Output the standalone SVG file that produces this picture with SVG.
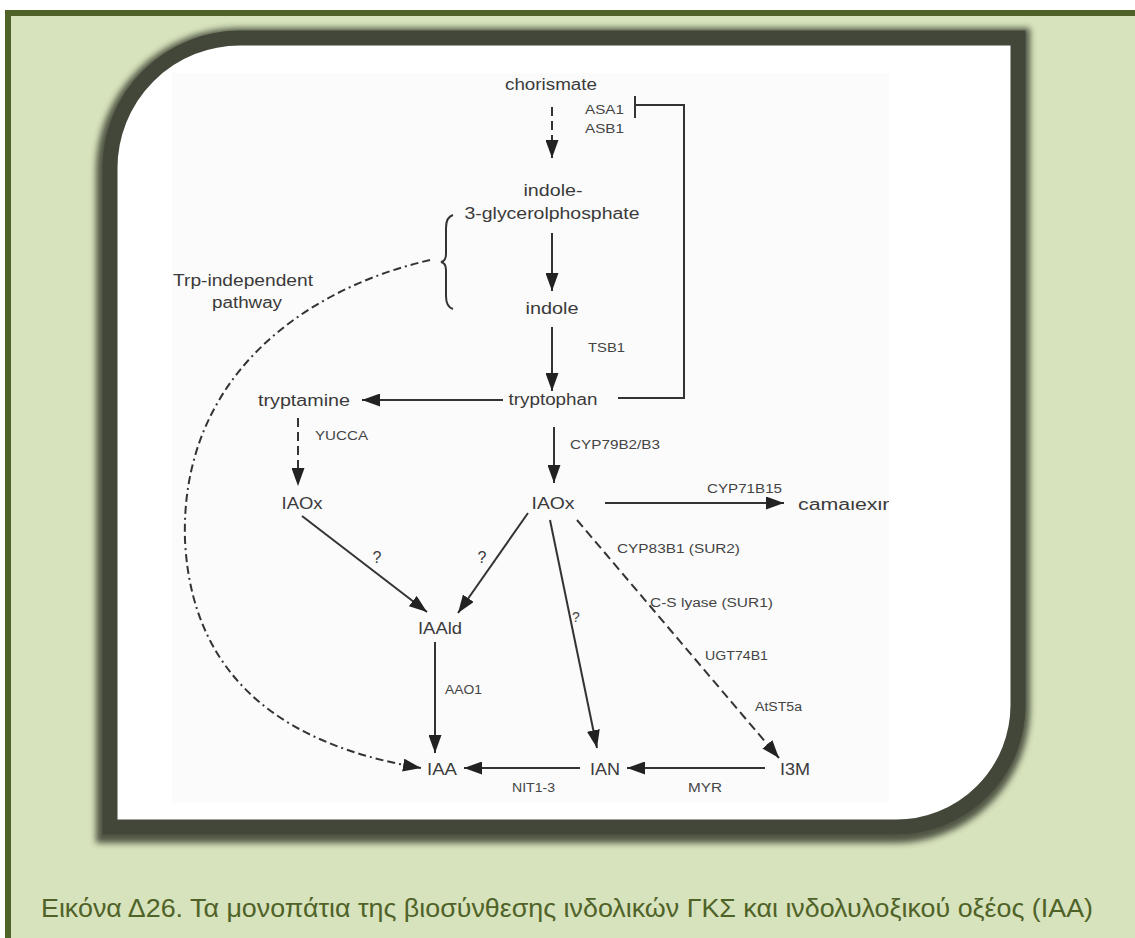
<svg xmlns="http://www.w3.org/2000/svg" width="1135" height="938" viewBox="0 0 1135 938">
<defs>
<style>
.lbl{font-family:"Liberation Sans",Arial,sans-serif;font-size:16px;fill:#3a3a3a;}
.enz{font-family:"Liberation Sans",Arial,sans-serif;font-size:12.5px;fill:#444;}
.ln{stroke:#333;stroke-width:2;fill:none;}
.arr{marker-end:url(#ah);}
.dash{stroke-dasharray:9,5;}
.cap{font-family:"Liberation Sans",Arial,sans-serif;font-size:26px;fill:#4f6228;}
</style>
<marker id="ah" markerUnits="userSpaceOnUse" markerWidth="19" markerHeight="13" refX="18" refY="6.5" orient="auto">
<path d="M0,0 L18,6.5 L0,13 z" fill="#222"/>
</marker>
<filter id="blur" x="-10%" y="-10%" width="120%" height="120%"><feGaussianBlur stdDeviation="3"/></filter>
<clipPath id="camclip"><rect x="790" y="501" width="99" height="16"/></clipPath>
</defs>

<!-- background -->
<rect x="0" y="0" width="1135" height="938" fill="#ffffff"/>
<rect x="5" y="10" width="1130" height="928" fill="#d7e3bc"/>
<rect x="5" y="10" width="1130" height="6" fill="#4f6228"/>
<rect x="5" y="10" width="6" height="928" fill="#4f6228"/>

<!-- framed panel -->
<g id="panel">
<path d="M108,168 A132,132 0 0 1 240,36 H1020 V705 A124,124 0 0 1 896,829 H108 Z" fill="none" stroke="#434739" stroke-width="22" filter="url(#blur)" opacity="0.9" transform="translate(-1,3)"/>
<path d="M110,168 A130,130 0 0 1 240,38 H1018 V705 A122,122 0 0 1 896,827 H110 Z" fill="#ffffff" stroke="#434739" stroke-width="15"/>
<rect x="172" y="73" width="717" height="730" fill="#fbfbfb"/>
</g>

<!-- connectors -->
<g id="connectors">
<line class="ln dash arr" x1="552" y1="107" x2="552" y2="158"/>
<line class="ln arr" x1="552" y1="233" x2="552" y2="291"/>
<line class="ln arr" x1="552" y1="327" x2="552" y2="391"/>
<line class="ln arr" x1="503" y1="400" x2="362" y2="400"/>
<line class="ln arr" x1="554" y1="427" x2="554" y2="483"/>
<path class="ln" d="M618,398 H684 V105 H635"/>
<line class="ln" x1="635" y1="96" x2="635" y2="118"/>
<line class="ln dash arr" x1="298" y1="418" x2="298" y2="486"/>
<line class="ln arr" x1="302" y1="516" x2="427" y2="612"/>
<line class="ln arr" x1="528" y1="513" x2="458" y2="613"/>
<line class="ln arr" x1="550" y1="520" x2="597" y2="748"/>
<line class="ln dash arr" x1="577" y1="520" x2="779" y2="758"/>
<line class="ln arr" x1="605" y1="503" x2="784" y2="503"/>
<line class="ln arr" x1="435" y1="642" x2="435" y2="753"/>
<line class="ln arr" x1="580" y1="768" x2="464" y2="768"/>
<line class="ln arr" x1="765" y1="768" x2="627" y2="768"/>
<path class="ln arr" d="M430,260 C300,290 180,380 185,540 C192,690 300,748 421,768" stroke-width="1.8" stroke-dasharray="8,4,8,4,2,4"/>
<path class="ln" d="M453,215 Q446,217 446,228 V254 Q446,261 441,262 Q446,263 446,270 V296 Q446,307 453,309" stroke-width="1.6"/>
</g>

<!-- nodes -->
<g id="n-chorismate"><text class="lbl" x="551" y="90" text-anchor="middle" textLength="92" lengthAdjust="spacingAndGlyphs">chorismate</text></g>
<g id="e-asa"><text class="enz" x="585" y="114" textLength="39" lengthAdjust="spacingAndGlyphs">ASA1</text><text class="enz" x="585" y="133" textLength="39" lengthAdjust="spacingAndGlyphs">ASB1</text></g>
<g id="n-igp"><text class="lbl" x="553" y="196" text-anchor="middle" textLength="59" lengthAdjust="spacingAndGlyphs">indole-</text><text class="lbl" x="552" y="219" text-anchor="middle" textLength="175" lengthAdjust="spacingAndGlyphs">3-glycerolphosphate</text></g>
<g id="n-indole"><text class="lbl" x="552" y="314" text-anchor="middle" textLength="53" lengthAdjust="spacingAndGlyphs">indole</text></g>
<g id="e-tsb"><text class="enz" x="588" y="352" textLength="37" lengthAdjust="spacingAndGlyphs">TSB1</text></g>
<g id="n-tryptophan"><text class="lbl" x="553" y="405" text-anchor="middle" textLength="89" lengthAdjust="spacingAndGlyphs">tryptophan</text></g>
<g id="n-tryptamine"><text class="lbl" x="304" y="406" text-anchor="middle" textLength="92" lengthAdjust="spacingAndGlyphs">tryptamine</text></g>
<g id="e-yucca"><text class="enz" x="315" y="440" textLength="53" lengthAdjust="spacingAndGlyphs">YUCCA</text></g>
<g id="n-iaox-left"><text class="lbl" x="302" y="509" text-anchor="middle" textLength="41" lengthAdjust="spacingAndGlyphs">IAOx</text></g>
<g id="e-cyp79"><text class="enz" x="570" y="449" textLength="90" lengthAdjust="spacingAndGlyphs">CYP79B2/B3</text></g>
<g id="n-iaox"><text class="lbl" x="553" y="509" text-anchor="middle" textLength="43" lengthAdjust="spacingAndGlyphs">IAOx</text></g>
<g id="e-cyp71"><text class="enz" x="707" y="493" textLength="75" lengthAdjust="spacingAndGlyphs">CYP71B15</text></g>
<g id="n-camalexin" clip-path="url(#camclip)"><text class="lbl" x="798" y="510" textLength="96" lengthAdjust="spacingAndGlyphs">camalexin</text></g>
<g id="e-cyp83"><text class="enz" x="617" y="553" textLength="123" lengthAdjust="spacingAndGlyphs">CYP83B1 (SUR2)</text></g>
<g id="q-left"><text class="lbl" x="377" y="563" text-anchor="middle">?</text></g>
<g id="q-mid"><text class="lbl" x="482" y="563" text-anchor="middle">?</text></g>
<g id="q-right"><text class="enz" x="576" y="622" text-anchor="middle" style="font-size:14px">?</text></g>
<g id="e-csl"><text class="enz" x="650" y="607" textLength="123" lengthAdjust="spacingAndGlyphs">C-S lyase (SUR1)</text></g>
<g id="n-iaald"><text class="lbl" x="440" y="634" text-anchor="middle" textLength="44" lengthAdjust="spacingAndGlyphs">IAAld</text></g>
<g id="e-ugt"><text class="enz" x="705" y="660" textLength="63" lengthAdjust="spacingAndGlyphs">UGT74B1</text></g>
<g id="e-aao"><text class="enz" x="445" y="694" textLength="37" lengthAdjust="spacingAndGlyphs">AAO1</text></g>
<g id="e-atst"><text class="enz" x="755" y="711" textLength="47" lengthAdjust="spacingAndGlyphs">AtST5a</text></g>
<g id="n-iaa"><text class="lbl" x="442" y="775" text-anchor="middle" textLength="30" lengthAdjust="spacingAndGlyphs">IAA</text></g>
<g id="n-ian"><text class="lbl" x="605" y="775" text-anchor="middle" textLength="30" lengthAdjust="spacingAndGlyphs">IAN</text></g>
<g id="n-i3m"><text class="lbl" x="795" y="775" text-anchor="middle" textLength="30" lengthAdjust="spacingAndGlyphs">I3M</text></g>
<g id="e-nit"><text class="enz" x="512" y="792" textLength="43" lengthAdjust="spacingAndGlyphs">NIT1-3</text></g>
<g id="e-myr"><text class="enz" x="688" y="792" textLength="34" lengthAdjust="spacingAndGlyphs">MYR</text></g>
<g id="l-trpind"><text class="lbl" x="243" y="286" text-anchor="middle" textLength="140" lengthAdjust="spacingAndGlyphs">Trp-independent</text><text class="lbl" x="247" y="308" text-anchor="middle" textLength="70" lengthAdjust="spacingAndGlyphs">pathway</text></g>

<g id="caption"><text class="cap" x="41" y="917" textLength="1052" lengthAdjust="spacingAndGlyphs">Εικόνα Δ26. Τα μονοπάτια της βιοσύνθεσης ινδολικών ΓΚΣ και ινδολυλοξικού οξέος (IAA)</text></g>
</svg>
